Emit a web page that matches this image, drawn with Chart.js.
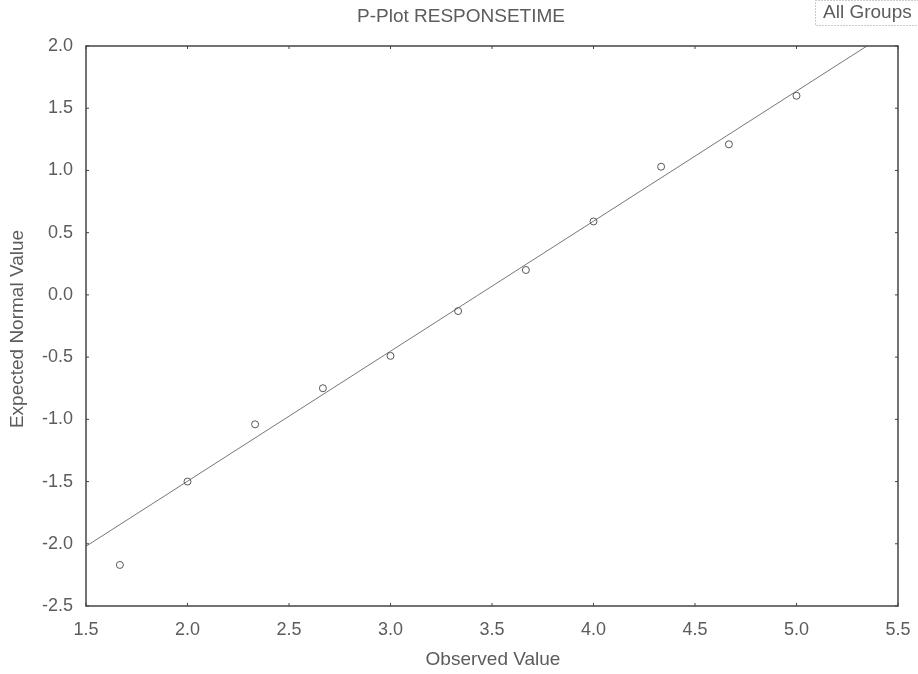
<!DOCTYPE html>
<html>
<head>
<meta charset="utf-8">
<title>P-Plot RESPONSETIME</title>
<script src="https://cdn.jsdelivr.net/npm/chart.js@4/dist/chart.umd.min.js"></script>
<style>
  html, body { margin: 0; padding: 0; background: #fff; }
  #wrap { width: 918px; height: 674px; }
</style>
</head>
<body>
<div id="wrap"><canvas id="pplot" width="918" height="674"></canvas></div>
<script>
// ===== Data =====
const observed = [1.667, 2.0, 2.333, 2.667, 3.0, 3.333, 3.667, 4.0, 4.333, 4.667, 5.0];
const expected = [-2.17, -1.50, -1.04, -0.75, -0.49, -0.13, 0.20, 0.59, 1.03, 1.21, 1.60];
const fitX = [1.5, 5.5];
const fitY = [-2.02, 2.16];
const xTicks = [1.5, 2.0, 2.5, 3.0, 3.5, 4.0, 4.5, 5.0, 5.5];
const yTicks = [-2.5, -2.0, -1.5, -1.0, -0.5, 0.0, 0.5, 1.0, 1.5, 2.0];

const TEXT = '#5c5c5c';
const AXIS = '#444';
const FONT = '"Liberation Sans", Arial, sans-serif';

// frame, inward tick marks, titles and the group box
const decorations = {
  id: 'decorations',
  afterDraw(chart) {
    const { ctx, chartArea: a, scales: { x, y } } = chart;
    ctx.save();
    ctx.strokeStyle = AXIS;
    ctx.lineWidth = 1.5;
    ctx.strokeRect(a.left, a.top, a.right - a.left, a.bottom - a.top);

    ctx.lineWidth = 1;
    ctx.beginPath();
    xTicks.forEach(v => {
      const px = x.getPixelForValue(v);
      ctx.moveTo(px, a.bottom); ctx.lineTo(px, a.bottom - 3);
      ctx.moveTo(px, a.top); ctx.lineTo(px, a.top + 3);
    });
    yTicks.forEach(v => {
      const py = y.getPixelForValue(v);
      ctx.moveTo(a.left, py); ctx.lineTo(a.left + 3, py);
      ctx.moveTo(a.right, py); ctx.lineTo(a.right - 3, py);
    });
    ctx.stroke();

    ctx.fillStyle = TEXT;
    ctx.font = '19px ' + FONT;
    ctx.textAlign = 'center';
    ctx.textBaseline = 'middle';
    ctx.fillText('P-Plot RESPONSETIME', 461, 17);
    ctx.fillText('Observed Value', (a.left + a.right) / 2 + 1, 660);

    ctx.save();
    ctx.translate(18, (a.top + a.bottom) / 2 + 3);
    ctx.rotate(-Math.PI / 2);
    ctx.fillText('Expected Normal Value', 0, 0);
    ctx.restore();

    // group box
    ctx.strokeStyle = '#999';
    ctx.setLineDash([1, 2]);
    ctx.strokeRect(815.5, 0.5, 110, 25);
    ctx.setLineDash([]);
    ctx.textAlign = 'left';
    ctx.fillText('All Groups', 823, 13);
    ctx.restore();
  }
};

new Chart(document.getElementById('pplot'), {
  type: 'scatter',
  data: {
    datasets: [
      {
        label: 'Fit',
        type: 'line',
        data: fitX.map((v, i) => ({ x: v, y: fitY[i] })),
        borderColor: '#777',
        borderWidth: 1,
        pointRadius: 0,
        fill: false,
        order: 2
      },
      {
        label: 'All Groups',
        data: observed.map((v, i) => ({ x: v, y: expected[i] })),
        pointStyle: 'circle',
        pointRadius: 3.5,
        pointBorderWidth: 1,
        pointBorderColor: '#555',
        pointBackgroundColor: 'rgba(255,255,255,0)',
        order: 1
      }
    ]
  },
  options: {
    responsive: false,
    animation: false,
    layout: { padding: { left: 0, top: 46, right: 20, bottom: 0 } },
    plugins: {
      legend: { display: false },
      tooltip: { enabled: false },
      title: { display: false }
    },
    scales: {
      x: {
        type: 'linear',
        min: 1.5,
        max: 5.5,
        afterFit: s => { s.height = 68; s.paddingRight = 0; },
        afterBuildTicks: s => { s.ticks = xTicks.map(v => ({ value: v })); },
        grid: { display: false },
        border: { display: false },
        ticks: {
          color: TEXT,
          font: { family: FONT, size: 18 },
          padding: 5,
          maxRotation: 0,
          callback: v => v.toFixed(1)
        }
      },
      y: {
        type: 'linear',
        min: -2.5,
        max: 2.0,
        afterFit: s => { s.width = 86; },
        afterBuildTicks: s => { s.ticks = yTicks.map(v => ({ value: v })); },
        grid: { display: false },
        border: { display: false },
        ticks: {
          color: TEXT,
          font: { family: FONT, size: 18 },
          padding: 5,
          callback: v => v.toFixed(1)
        }
      }
    }
  },
  plugins: [decorations]
});
</script>
</body>
</html>
